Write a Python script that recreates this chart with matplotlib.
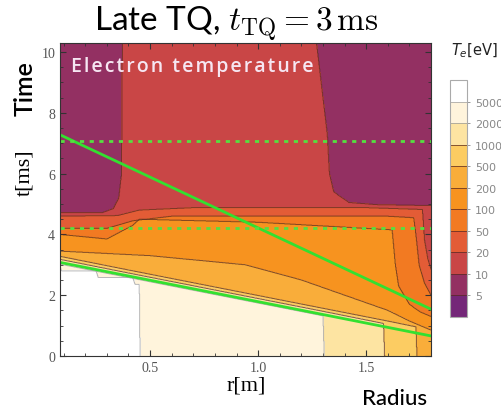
"""Electron temperature map in the (r, t) plane for a late thermal quench."""

import matplotlib

matplotlib.use("Agg")

import matplotlib.pyplot as plt  # noqa: E402
import numpy as np  # noqa: E402
from matplotlib.ticker import MultipleLocator  # noqa: E402

R_MIN, R_MAX = 0.083, 1.80
T_MAX = 10.3

# contour levels [eV] and the fill colour of each band
TE_LEVELS = [1, 5, 10, 20, 50, 100, 200, 500, 1000, 2000, 5000, 10000]
TE_BAND = np.array([3, 7, 14, 32, 70, 140, 320, 700, 1400, 3200, 7000])
BAND_COLORS = ["#742778", "#933062", "#c94646", "#e35c36", "#f27a22",
               "#f7931f", "#f9ad3a", "#fccc62", "#fde4a2", "#fff4dc", "#ffffff"]

# time [ms] below which Te exceeds each level, sampled along r [m]
EDGE_5_R = [0.083, 1.80]
EDGE_5_T = [11.0, 11.0]
EDGE_10_R = [0.083, 0.28, 0.33, 0.355, 0.368, 0.372, 1.262, 1.27, 1.32, 1.33,
             1.35, 1.42, 1.55, 1.80]
EDGE_10_T = [4.72, 4.72, 4.85, 5.2, 6.0, 11.0, 11.0, 10.3, 7.3, 6.0,
             5.4, 5.05, 4.98, 4.95]
EDGE_20_R = [0.083, 0.35, 0.45, 0.7, 1.5, 1.76, 1.77, 1.785, 1.80]
EDGE_20_T = [4.6, 4.62, 4.8, 4.88, 4.88, 4.82, 3.8, 3.2, 2.85]
EDGE_50_R = [0.083, 0.3, 0.42, 0.6, 1.0, 1.6, 1.72, 1.73, 1.745, 1.77, 1.80]
EDGE_50_T = [4.2, 4.2, 4.45, 4.6, 4.6, 4.6, 4.55, 4.0, 3.0, 2.4, 2.0]
EDGE_100_R = [0.083, 0.3, 0.42, 0.45, 1.0, 1.62, 1.635, 1.65, 1.7, 1.75, 1.80]
EDGE_100_T = [4.0, 3.85, 4.3, 4.5, 4.4, 4.15, 3.0, 2.3, 1.7, 1.45, 1.3]
EDGE_200_R = [0.083, 0.5, 0.94, 1.2, 1.4, 1.6, 1.7, 1.80]
EDGE_200_T = [3.45, 3.3, 3.0, 2.5, 2.0, 1.5, 1.15, 0.85]
EDGE_500_R = [0.083, 0.4, 0.7, 1.0, 1.3, 1.6, 1.73, 1.74, 1.80]
EDGE_500_T = [3.28, 2.83, 2.41, 1.99, 1.57, 1.15, 0.96, -1.0, -1.0]
EDGE_1000_R = [0.083, 0.4, 0.7, 1.0, 1.3, 1.58, 1.59, 1.80]
EDGE_1000_T = [3.18, 2.73, 2.31, 1.89, 1.47, 1.07, -1.0, -1.0]
EDGE_2000_R = [0.083, 0.4, 0.7, 1.0, 1.2, 1.30, 1.31, 1.80]
EDGE_2000_T = [3.02, 2.58, 2.16, 1.74, 1.46, 1.32, -1.0, -1.0]
EDGE_5000_R = [0.083, 0.09, 0.25, 0.26, 0.42, 0.43, 0.45, 0.455, 1.80]
EDGE_5000_T = [2.95, 2.8, 2.8, 2.58, 2.58, 2.36, 2.36, -1.0, -1.0]

# overlay lines
GREEN_UPPER_R = [0.083, 1.80]
GREEN_UPPER_T = [7.28, 1.54]
GREEN_LOWER_R = [0.083, 1.80]
GREEN_LOWER_T = [3.08, 0.66]
DOTTED_T = [7.08, 4.2]

edges = [
    (EDGE_5_R, EDGE_5_T), (EDGE_10_R, EDGE_10_T), (EDGE_20_R, EDGE_20_T),
    (EDGE_50_R, EDGE_50_T), (EDGE_100_R, EDGE_100_T), (EDGE_200_R, EDGE_200_T),
    (EDGE_500_R, EDGE_500_T), (EDGE_1000_R, EDGE_1000_T),
    (EDGE_2000_R, EDGE_2000_T), (EDGE_5000_R, EDGE_5000_T),
]

r = np.linspace(R_MIN, R_MAX, 800)
t = np.linspace(0.0, T_MAX, 1000)
RR, TT = np.meshgrid(r, t)
band = np.zeros(RR.shape, dtype=int)
for rs, ts in edges:
    band += TT < np.interp(r, rs, ts)[None, :]
te = TE_BAND[band]

plt.rcParams["mathtext.fontset"] = "cm"

fig = plt.figure(figsize=(5.02, 4.10), dpi=100)
ax = fig.add_axes([0.1195, 0.1293, 0.7391, 0.7634])
cax = fig.add_axes([0.897, 0.2244, 0.033, 0.578])

cf = ax.contourf(RR, TT, te, levels=TE_LEVELS, colors=BAND_COLORS)
line_cols = ["#5a2a20"] * 8 + ["#9a9a9a", "#a0a0a0"]
cs = ax.contour(RR, TT, te, levels=TE_LEVELS[1:-1], colors=line_cols,
                linewidths=0.7, alpha=0.75)

green = "#33e030"
ax.plot(GREEN_UPPER_R, GREEN_UPPER_T, color=green, lw=2.0)
ax.plot(GREEN_LOWER_R, GREEN_LOWER_T, color=green, lw=2.0)
for ty in DOTTED_T:
    ax.axhline(ty, color="#55e040", lw=2.0, ls=(0, (1.5, 2.0)))

ax.set_xlim(R_MIN, R_MAX)
ax.set_ylim(0, T_MAX)
ax.xaxis.set_major_locator(MultipleLocator(0.5))
ax.xaxis.set_minor_locator(MultipleLocator(0.1))
ax.yaxis.set_major_locator(MultipleLocator(2))
ax.yaxis.set_minor_locator(MultipleLocator(0.5))
ax.tick_params(which="both", direction="in", top=True, right=True,
               color="#333333")
ax.tick_params(which="major", length=4, labelsize=10, labelcolor="#555555")
ax.tick_params(which="minor", length=2.5)
for lab in ax.get_xticklabels() + ax.get_yticklabels():
    lab.set_fontfamily("Liberation Serif")
for sp in ax.spines.values():
    sp.set_color("#333333")

# spread the letters out a little
label = "\u200a".join("Electron temperature")
ax.text(0.03, 0.96, label, transform=ax.transAxes, color="#f6e6f2",
        fontsize=14, fontweight="semibold", family=["Open Sans", "DejaVu Sans"],
        ha="left", va="top")

cb = fig.colorbar(cf, cax=cax, ticks=TE_LEVELS[1:-1])
cb.add_lines(cs)
cb.outline.set_edgecolor("#aaaaaa")
cb.ax.tick_params(length=2.5, labelsize=8, colors="#888888", width=0.6)
cb.ax.set_yticklabels([str(v) for v in TE_LEVELS[1:-1]])
fig.text(0.946, 0.875, "$T_e$[eV]", fontsize=10.5, ha="center", va="center",
         math_fontfamily="dejavusans", color="#222222")

fig.text(0.47, 0.94, r"Late TQ, $t_{\mathrm{TQ}} = 3\,\mathrm{ms}$",
         fontsize=24, family="Lato", ha="center", va="center")
fig.text(0.49, 0.058, "r[m]", fontsize=16, family="Liberation Serif",
         ha="center", va="center")
fig.text(0.785, 0.026, "Radius", fontsize=16, family="Lato",
         fontweight="medium", ha="center", va="center")
fig.text(0.05, 0.783, "Time", fontsize=18, family="Lato",
         fontweight="semibold", rotation=90, ha="center", va="center")
fig.text(0.05, 0.58, "t[ms]", fontsize=16, family="Liberation Serif",
         rotation=90, ha="center", va="center")

fig.savefig("out.png", dpi=100)
plt.close(fig)
